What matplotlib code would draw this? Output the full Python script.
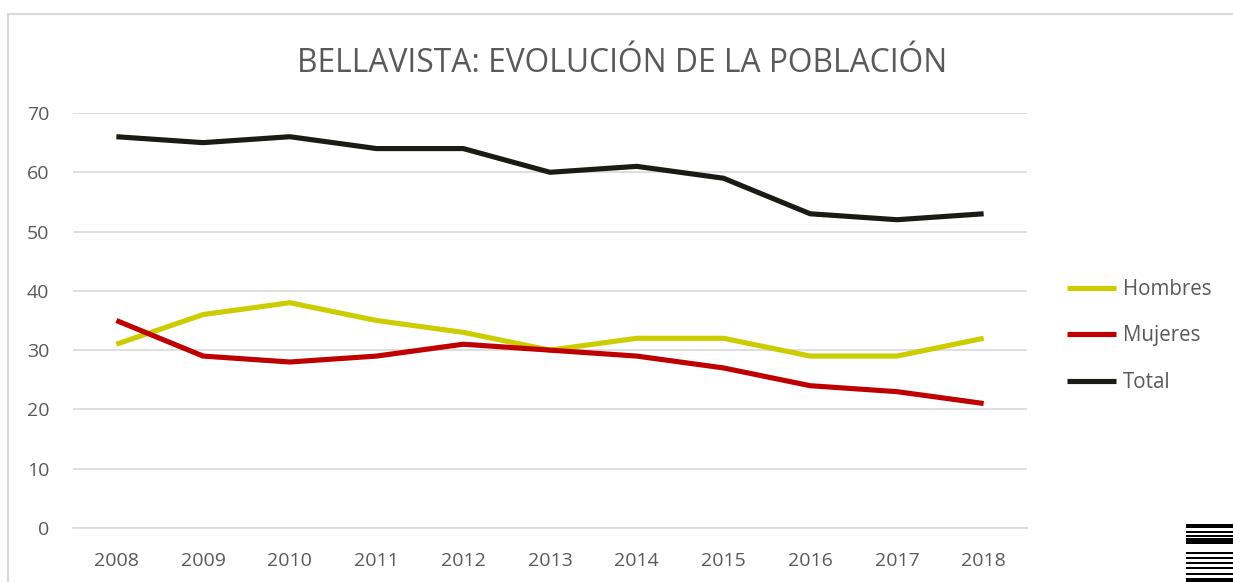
import matplotlib.pyplot as plt
from matplotlib.patches import Rectangle

plt.rcParams['font.family'] = ['Open Sans', 'DejaVu Sans']

years = ['2008', '2009', '2010', '2011', '2012', '2013',
         '2014', '2015', '2016', '2017', '2018']
hombres = [31, 36, 38, 35, 33, 30, 32, 32, 29, 29, 32]
mujeres = [35, 29, 28, 29, 31, 30, 29, 27, 24, 23, 21]
total = [66, 65, 66, 64, 64, 60, 61, 59, 53, 52, 53]

W, H = 1233, 582
fig = plt.figure(figsize=(W / 100, H / 100), dpi=100)
ax = fig.add_axes([73 / W, 1 - 528 / H, (1027 - 73) / W, (528 - 113) / H])

x = range(len(years))
ax.plot(x, hombres, color='#CCCC00', lw=3.7, label='Hombres', solid_capstyle='butt')
ax.plot(x, mujeres, color='#C00000', lw=3.7, label='Mujeres', solid_capstyle='butt')
ax.plot(x, total, color='#1C1A14', lw=3.7, label='Total', solid_capstyle='butt')

ax.set_xlim(-0.5, len(years) - 0.5)
ax.set_ylim(0, 70)
ax.set_yticks(range(0, 71, 10))
ax.set_xticks(list(x))
ax.set_xticklabels(years)
ax.grid(axis='y', color='#D9D9D9', lw=1.2)
ax.set_axisbelow(True)
for s in ['top', 'right', 'left']:
    ax.spines[s].set_visible(False)
ax.spines['bottom'].set_color('#D9D9D9')
ax.spines['bottom'].set_linewidth(1.2)
ax.tick_params(axis='both', length=0, labelsize=14, colors='#595959')
ax.tick_params(axis='y', pad=17)
ax.tick_params(axis='x', pad=17)

fig.text(622 / W, 1 - 63 / H, 'BELLAVISTA: EVOLUCIÓN DE LA POBLACIÓN',
         ha='center', va='center', fontsize=22.9, color='#595959')

leg = fig.legend(loc='center left', bbox_to_anchor=(1048 / W, 1 - 336 / H),
                 frameon=False, fontsize=14.8, handlelength=2.4,
                 handletextpad=0.35, labelspacing=1.23)
for t in leg.get_texts():
    t.set_color('#595959')

# chart border (cropped at the right and bottom)
fig.patches.append(Rectangle((8 / W, -0.1), 1.2, 1 - 14 / H + 0.1,
                             transform=fig.transFigure, fill=False,
                             edgecolor='#D9D9D9', lw=1.5))

# striped mark in the bottom-right corner
bands = [(524, 528), (531, 533), (535, 537), (538, 544), (552, 554),
         (557, 559), (562, 564), (567, 569), (573, 575), (578, 582)]
for y0, y1 in bands:
    fig.patches.append(Rectangle((1186 / W, 1 - y1 / H), 47 / W, (y1 - y0) / H,
                                 transform=fig.transFigure, color='black', lw=0))

fig.savefig('out.png', dpi=100)
